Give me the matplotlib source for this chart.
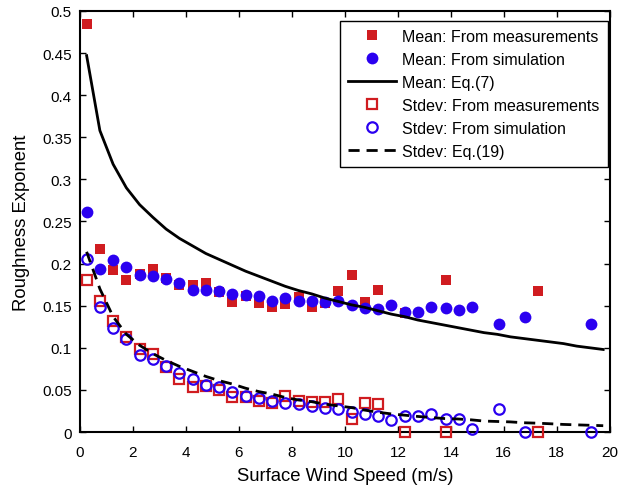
# Roughness exponent vs surface wind speed: mean and stdev, measured vs simulated vs equations.
import matplotlib
matplotlib.use("Agg")
import matplotlib.pyplot as plt
import numpy as np

plt.rcParams["font.family"] = ["Liberation Sans", "DejaVu Sans"]

# ------------------------------------------------------------
# Data
# ------------------------------------------------------------

# Mean: from measurements (filled red squares)
mean_meas_x = [0.25, 0.75, 1.25, 1.75, 2.25, 2.75, 3.25, 3.75, 4.25, 4.75,
               5.25, 5.75, 6.25, 6.75, 7.25, 7.75, 8.25, 8.75, 9.25, 9.75,
               10.25, 10.75, 11.25, 12.25, 13.8, 17.3]
mean_meas_y = [0.485, 0.217, 0.192, 0.180, 0.188, 0.194, 0.183, 0.175, 0.174, 0.177,
               0.166, 0.154, 0.162, 0.153, 0.148, 0.152, 0.160, 0.148, 0.153, 0.168,
               0.186, 0.154, 0.169, 0.141, 0.181, 0.168]

# Mean: from simulation (filled blue circles)
mean_sim_x = [0.25, 0.75, 1.25, 1.75, 2.25, 2.75, 3.25, 3.75, 4.25, 4.75,
              5.25, 5.75, 6.25, 6.75, 7.25, 7.75, 8.25, 8.75, 9.25, 9.75,
              10.25, 10.75, 11.25, 11.75, 12.25, 12.75, 13.25, 13.8, 14.3, 14.8,
              15.8, 16.8, 19.3]
mean_sim_y = [0.261, 0.194, 0.204, 0.196, 0.186, 0.185, 0.182, 0.177, 0.169, 0.169,
              0.167, 0.164, 0.163, 0.161, 0.156, 0.159, 0.156, 0.155, 0.154, 0.156,
              0.151, 0.147, 0.146, 0.151, 0.143, 0.142, 0.148, 0.147, 0.145, 0.149,
              0.128, 0.137, 0.128]

# Mean: Eq.(7) (solid line)
eq7_x = [0.25, 0.75, 1.25, 1.75, 2.25, 2.75, 3.25, 3.75, 4.25, 4.75,
         5.25, 5.75, 6.25, 6.75, 7.25, 7.75, 8.25, 8.75, 9.25, 9.75,
         10.25, 10.75, 11.25, 11.75, 12.25, 12.75, 13.25, 13.75, 14.25, 14.75,
         15.25, 15.75, 16.25, 16.75, 17.25, 17.75, 18.25, 18.75, 19.25, 19.75]
eq7_y = [0.447, 0.358, 0.318, 0.290, 0.270, 0.255, 0.241, 0.230, 0.221, 0.212,
         0.205, 0.198, 0.191, 0.185, 0.179, 0.173, 0.168, 0.164, 0.159, 0.155,
         0.151, 0.148, 0.144, 0.140, 0.137, 0.133, 0.130, 0.127, 0.124, 0.121,
         0.118, 0.116, 0.113, 0.111, 0.109, 0.107, 0.105, 0.102, 0.100, 0.098]

# Stdev: from measurements (hollow red squares)
std_meas_x = mean_meas_x
std_meas_y = [0.181, 0.156, 0.132, 0.113, 0.099, 0.093, 0.077, 0.063, 0.053, 0.055,
              0.050, 0.041, 0.042, 0.037, 0.034, 0.043, 0.037, 0.036, 0.036, 0.039,
              0.016, 0.035, 0.033, 0.0, 0.0, 0.0]

# Stdev: from simulation (hollow blue circles)
std_sim_x = mean_sim_x
std_sim_y = [0.206, 0.149, 0.124, 0.111, 0.092, 0.087, 0.078, 0.070, 0.063, 0.056,
             0.053, 0.047, 0.043, 0.040, 0.037, 0.035, 0.033, 0.031, 0.029, 0.027,
             0.024, 0.021, 0.019, 0.014, 0.019, 0.019, 0.021, 0.016, 0.016, 0.004,
             0.027, 0.0, 0.0]

# Stdev: Eq.(19) (dashed line)
eq19_x = eq7_x
eq19_y = [0.214, 0.170, 0.137, 0.116, 0.103, 0.093, 0.085, 0.078, 0.072, 0.066,
          0.061, 0.057, 0.052, 0.048, 0.045, 0.041, 0.038, 0.036, 0.033, 0.031,
          0.029, 0.026, 0.0235, 0.0215, 0.020, 0.0185, 0.0172, 0.016, 0.0155, 0.0145,
          0.013, 0.0125, 0.012, 0.011, 0.0105, 0.0098, 0.009, 0.0085, 0.008, 0.0075]

x_ticks = list(range(0, 21, 2))
y_ticks = [0, 0.05, 0.1, 0.15, 0.2, 0.25, 0.3, 0.35, 0.4, 0.45, 0.5]
y_tick_labels = ["0", "0.05", "0.1", "0.15", "0.2", "0.25", "0.3", "0.35", "0.4", "0.45", "0.5"]

RED = "#d01c20"
BLUE = "#2a00f0"

# ------------------------------------------------------------
# Plot
# ------------------------------------------------------------

fig = plt.figure(figsize=(6.3, 4.89), dpi=100)
ax = fig.add_axes([0.127, 0.1145, 0.841, 0.861])

ax.plot(mean_meas_x, mean_meas_y, "s", color=RED, markersize=7.5,
        markeredgewidth=0, label="Mean: From measurements", clip_on=False, zorder=3)
ax.plot(mean_sim_x, mean_sim_y, "o", color=BLUE, markersize=8.5,
        markeredgewidth=0, label="Mean: From simulation", clip_on=False, zorder=3)
ax.plot(eq7_x, eq7_y, "-", color="black", linewidth=2, label="Mean: Eq.(7)", zorder=4)
ax.plot(std_meas_x, std_meas_y, "s", markerfacecolor="none", markeredgecolor=RED,
        markersize=7, markeredgewidth=1.6, label="Stdev: From measurements",
        clip_on=False, zorder=3)
ax.plot(std_sim_x, std_sim_y, "o", markerfacecolor="none", markeredgecolor=BLUE,
        markersize=7.5, markeredgewidth=1.6, label="Stdev: From simulation",
        clip_on=False, zorder=3)
ax.plot(eq19_x, eq19_y, "--", color="black", linewidth=2, dashes=(4, 2.5),
        label="Stdev: Eq.(19)", zorder=4)

ax.set_xlim(0, 20)
ax.set_ylim(0, 0.5)
ax.set_xticks(x_ticks)
ax.set_yticks(y_ticks)
ax.set_yticklabels(y_tick_labels)

ax.tick_params(direction="in", top=True, right=True, length=4, width=1, labelsize=11)
ax.tick_params(axis="x", pad=9)
ax.tick_params(axis="y", pad=6)
for spine in ax.spines.values():
    spine.set_linewidth(1.5)

ax.set_xlabel("Surface Wind Speed (m/s)", fontsize=13.3, labelpad=6)
ax.set_ylabel("Roughness Exponent", fontsize=13.3, labelpad=9)

leg = ax.legend(loc="upper right", fontsize=11.5, fancybox=False, framealpha=1,
                edgecolor="black", handlelength=3.0, handletextpad=0.4,
                labelspacing=0.5, borderpad=0.5, borderaxespad=0,
                bbox_to_anchor=(0.996, 0.976))
leg.get_frame().set_linewidth(1.0)

fig.savefig("out.png", dpi=100)
